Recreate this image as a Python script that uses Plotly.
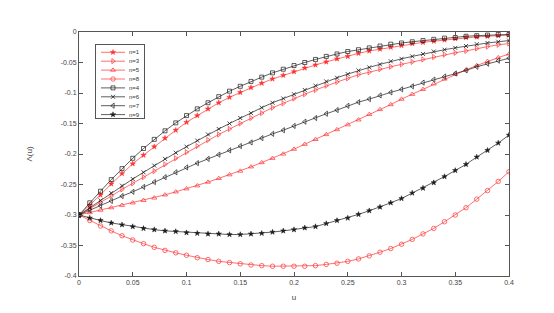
import plotly.graph_objects as go

u = [round(i * 0.01, 2) for i in range(41)]

n1 = [-0.300, -0.284, -0.267, -0.249, -0.232, -0.216, -0.202, -0.188, -0.174, -0.161,
      -0.148, -0.137, -0.126, -0.116, -0.107, -0.099, -0.091, -0.084, -0.077, -0.071,
      -0.065, -0.059, -0.054, -0.049, -0.044, -0.040, -0.035, -0.031, -0.028, -0.025,
      -0.022, -0.019, -0.017, -0.015, -0.013, -0.011, -0.009, -0.008, -0.007, -0.006, -0.005]
n3 = [-0.300, -0.290, -0.280, -0.269, -0.258, -0.248, -0.238, -0.228, -0.217, -0.207,
      -0.197, -0.187, -0.177, -0.168, -0.159, -0.150, -0.141, -0.133, -0.124, -0.117,
      -0.109, -0.102, -0.095, -0.088, -0.082, -0.076, -0.070, -0.066, -0.061, -0.057,
      -0.053, -0.049, -0.045, -0.041, -0.037, -0.034, -0.031, -0.027, -0.024, -0.021, -0.019]
n5 = [-0.300, -0.296, -0.292, -0.288, -0.284, -0.280, -0.276, -0.272, -0.267, -0.262,
      -0.257, -0.252, -0.246, -0.240, -0.234, -0.228, -0.221, -0.214, -0.207, -0.200,
      -0.192, -0.184, -0.176, -0.168, -0.160, -0.152, -0.144, -0.135, -0.127, -0.119,
      -0.110, -0.102, -0.094, -0.085, -0.077, -0.069, -0.062, -0.055, -0.048, -0.042, -0.036]
n8 = [-0.300, -0.309, -0.318, -0.326, -0.334, -0.341, -0.347, -0.353, -0.358, -0.362,
      -0.366, -0.370, -0.373, -0.376, -0.378, -0.380, -0.382, -0.383, -0.384, -0.384,
      -0.384, -0.384, -0.383, -0.381, -0.379, -0.376, -0.372, -0.367, -0.361, -0.355,
      -0.348, -0.340, -0.331, -0.322, -0.311, -0.300, -0.288, -0.274, -0.260, -0.245, -0.229]
n4 = [-0.300, -0.280, -0.261, -0.242, -0.224, -0.207, -0.191, -0.176, -0.162, -0.149,
      -0.137, -0.126, -0.116, -0.106, -0.097, -0.089, -0.081, -0.074, -0.067, -0.061,
      -0.055, -0.050, -0.045, -0.040, -0.036, -0.032, -0.029, -0.026, -0.023, -0.020,
      -0.018, -0.016, -0.014, -0.012, -0.010, -0.009, -0.007, -0.006, -0.005, -0.004, -0.004]
n6 = [-0.300, -0.288, -0.276, -0.264, -0.252, -0.241, -0.230, -0.219, -0.208, -0.198,
      -0.188, -0.178, -0.168, -0.159, -0.150, -0.141, -0.133, -0.124, -0.116, -0.109,
      -0.102, -0.095, -0.088, -0.081, -0.075, -0.069, -0.063, -0.058, -0.053, -0.048,
      -0.044, -0.040, -0.036, -0.032, -0.029, -0.026, -0.023, -0.020, -0.018, -0.016, -0.014]
n7 = [-0.300, -0.292, -0.285, -0.277, -0.269, -0.262, -0.254, -0.246, -0.238, -0.230,
      -0.222, -0.215, -0.208, -0.201, -0.194, -0.187, -0.181, -0.174, -0.167, -0.161,
      -0.154, -0.147, -0.141, -0.134, -0.128, -0.121, -0.115, -0.110, -0.104, -0.099,
      -0.094, -0.089, -0.083, -0.078, -0.073, -0.068, -0.063, -0.057, -0.052, -0.047, -0.043]
n9 = [-0.300, -0.305, -0.309, -0.313, -0.316, -0.319, -0.322, -0.324, -0.326, -0.327,
      -0.329, -0.330, -0.331, -0.331, -0.332, -0.332, -0.331, -0.330, -0.328, -0.326,
      -0.324, -0.321, -0.319, -0.314, -0.309, -0.305, -0.299, -0.293, -0.287, -0.280,
      -0.273, -0.264, -0.256, -0.247, -0.237, -0.227, -0.217, -0.205, -0.194, -0.182, -0.169]

series_names = ["n=1", "n=3", "n=5", "n=8", "n=4", "n=6", "n=7", "n=9"]
series_values = [n1, n3, n5, n8, n4, n6, n7, n9]

x_tickvals = [0, 0.05, 0.1, 0.15, 0.2, 0.25, 0.3, 0.35, 0.4]
x_ticktext = ["0", "0.05", "0.1", "0.15", "0.2", "0.25", "0.3", "0.35", "0.4"]
y_tickvals = [0, -0.05, -0.1, -0.15, -0.2, -0.25, -0.3, -0.35, -0.4]
y_ticktext = ["0", "-0.05", "-0.1", "-0.15", "-0.2", "-0.25", "-0.3", "-0.35", "-0.4"]

RED = "#ff3030"
BLK = "#1a1a1a"
# (colour, symbol, size, marker line width)
styles = [
    (RED, "star", 4, 0.5),
    (RED, "triangle-right-open", 4.5, 0.7),
    (RED, "triangle-up-open", 4.5, 0.7),
    (RED, "circle-open", 4.5, 0.7),
    (BLK, "square-open", 4, 0.7),
    (BLK, "x-thin-open", 4, 0.8),
    (BLK, "triangle-left-open", 4.5, 0.7),
    (BLK, "star", 4, 0.5),
]

FONT = "Liberation Sans, Arial, sans-serif"
fig = go.Figure()
for name, vals, (col, sym, sz, lw) in zip(series_names, series_values, styles):
    fig.add_trace(go.Scatter(
        x=u, y=vals, name=name, mode="lines+markers", showlegend=False,
        line=dict(color=col, width=0.7),
        marker=dict(symbol=sym, size=sz, color=col, line=dict(color=col, width=lw)),
    ))

# compact MATLAB-style legend drawn in an inset axis (units: pixels of the box)
LEG_W, LEG_H, ROW0, ROW = 48, 73, 7.3, 8.9
for i, (name, (col, sym, sz, lw)) in enumerate(zip(series_names, styles)):
    yy = ROW0 + ROW * i
    fig.add_trace(go.Scatter(x=[5, 29], y=[yy, yy], mode="lines", showlegend=False,
                             line=dict(color=col, width=0.7), xaxis="x2", yaxis="y2",
                             hoverinfo="skip"))
    fig.add_trace(go.Scatter(x=[17], y=[yy], mode="markers", showlegend=False,
                             marker=dict(symbol=sym, size=sz, color=col,
                                         line=dict(color=col, width=lw)),
                             xaxis="x2", yaxis="y2", hoverinfo="skip"))
    fig.add_annotation(x=31, y=yy, xref="x2", yref="y2", text=name, showarrow=False,
                       xanchor="left", yanchor="middle",
                       font=dict(family=FONT, size=6, color="#333"))

axis_common = dict(
    showline=True, linecolor="#555555", linewidth=1, mirror="ticks",
    ticks="inside", ticklen=4, tickcolor="#555555", tickwidth=1,
    showgrid=False, zeroline=False,
    tickfont=dict(family=FONT, size=7, color="#444"),
)

PL, PR, PT, PB = 71, 501, 24, 268
W, H = 554, 313
pw, ph = PR - PL, PB - PT

fig.update_layout(
    width=W, height=H,
    margin=dict(l=PL, r=W - PR, t=PT, b=H - PB),
    paper_bgcolor="white", plot_bgcolor="white",
    font=dict(family=FONT, size=7, color="#444"),
    xaxis=dict(range=[0, 0.4], tickvals=x_tickvals, ticktext=x_ticktext,
               title=dict(text="u", font=dict(size=8, color="#444"), standoff=8),
               **axis_common),
    yaxis=dict(range=[-0.4, 0], tickvals=y_tickvals, ticktext=y_ticktext,
               title=dict(text="Λ(u)", font=dict(size=8, color="#444"), standoff=26),
               **axis_common),
    xaxis2=dict(domain=[(88 - PL) / pw, (88 + LEG_W - PL) / pw], range=[0, LEG_W],
                anchor="y2", showline=True, mirror=True, linecolor="#555555", linewidth=0.8,
                showticklabels=False, ticks="", showgrid=False, zeroline=False, fixedrange=True),
    yaxis2=dict(domain=[(PB - 37 - LEG_H) / ph, (PB - 37) / ph], range=[LEG_H, 0],
                anchor="x2", showline=True, mirror=True, linecolor="#555555", linewidth=0.8,
                showticklabels=False, ticks="", showgrid=False, zeroline=False, fixedrange=True),
    shapes=[dict(type="rect", xref="x2 domain", yref="y2 domain", x0=0, x1=1, y0=0, y1=1,
                 fillcolor="white", line=dict(width=0), layer="below")],
    showlegend=False,
)

fig.write_html("out.html")
